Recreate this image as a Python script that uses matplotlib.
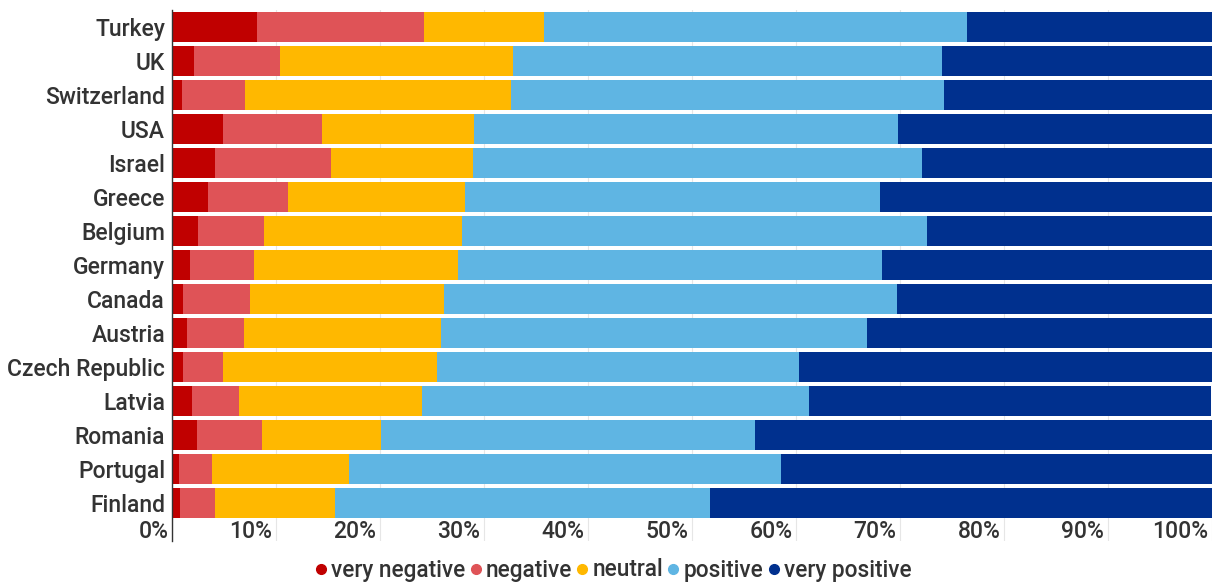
import matplotlib
matplotlib.use("Agg")
import matplotlib.pyplot as plt
from matplotlib.lines import Line2D
import matplotlib.transforms as mtransforms
import numpy as np

plt.rcParams['font.family'] = ['Roboto', 'DejaVu Sans']

countries = ["Turkey", "UK", "Switzerland", "USA", "Israel", "Greece", "Belgium",
             "Germany", "Canada", "Austria", "Czech Republic", "Latvia", "Romania",
             "Portugal", "Finland"]
very_negative = [8.2, 2.15, 1.0, 4.9, 4.1, 3.5, 2.5, 1.75, 1.1, 1.4, 1.1, 1.9, 2.45, 0.7, 0.8]
negative      = [16.0, 8.2, 6.05, 9.55, 11.15, 7.65, 6.3, 6.15, 6.4, 5.5, 3.8, 4.55, 6.2, 3.15, 3.35]
neutral       = [11.6, 22.45, 25.55, 14.6, 13.65, 17.05, 19.1, 19.6, 18.7, 19.0, 20.55, 17.6, 11.45, 13.15, 11.55]
positive      = [40.6, 41.2, 41.6, 40.75, 43.2, 39.9, 44.7, 40.8, 43.5, 40.9, 34.85, 37.2, 36.0, 41.6, 36.0]
very_positive = [23.6, 26.0, 25.8, 30.2, 27.9, 31.9, 27.4, 31.7, 30.3, 33.2, 39.7, 38.7, 43.9, 41.4, 48.3]

series_names = ["very negative", "negative", "neutral", "positive", "very positive"]
colors = ["#C00000", "#DF5357", "#FFB800", "#5FB5E3", "#00308E"]
series = [very_negative, negative, neutral, positive, very_positive]
xticks = [0, 10, 20, 30, 40, 50, 60, 70, 80, 90, 100]

W, H = 1222, 585
fig = plt.figure(figsize=(W / 100, H / 100), dpi=100)
top_px, bot_px = 10, 541
ax = fig.add_axes([172 / W, 1 - bot_px / H, (1212 - 172) / W, (bot_px - top_px) / H])

n = len(countries)
pitch = (520 - top_px) / n
extra = (bot_px - 520) / pitch

y = np.arange(n)
left = np.zeros(n)
for vals, col, name in zip(series, colors, series_names):
    v = np.array(vals)
    ax.barh(y, v, left=left, height=0.88, color=col, label=name, zorder=2, linewidth=0)
    left += v

ax.set_xlim(0, 100)
ax.set_ylim(n - 0.5 + extra, -0.5)
ax.set_yticks(y)
ax.set_yticklabels(countries, fontsize=16.5, color="#333333", fontweight="medium")
ax.set_xticks(xticks)
ax.set_xticklabels([])
ax.tick_params(axis="both", length=0, pad=5)
ax.grid(axis="x", color="#e6e6e6", linewidth=0.8, zorder=0)
for s in ["top", "right", "bottom"]:
    ax.spines[s].set_visible(False)
ax.spines["left"].set_color("#333333")
ax.spines["left"].set_linewidth(1.0)

for t in xticks:
    ax.text(t - 0.35, n - 0.5 + extra * 0.55, f"{t}%", ha="right", va="center",
            fontsize=16.5, color="#333333", fontweight="medium")

handles = [Line2D([0], [0], marker="o", color="none", markerfacecolor=c,
                  markeredgecolor=c, markersize=7) for c in colors]
fig.legend(handles, series_names, loc="center", bbox_to_anchor=(0.5, 1 - 570 / H),
           ncol=5, frameon=False, handletextpad=0.0,
           columnspacing=0.0, handlelength=0.9, labelcolor="#333333",
           prop={"weight": "medium", "size": 16.3})

fig.savefig("out.png", dpi=100)
